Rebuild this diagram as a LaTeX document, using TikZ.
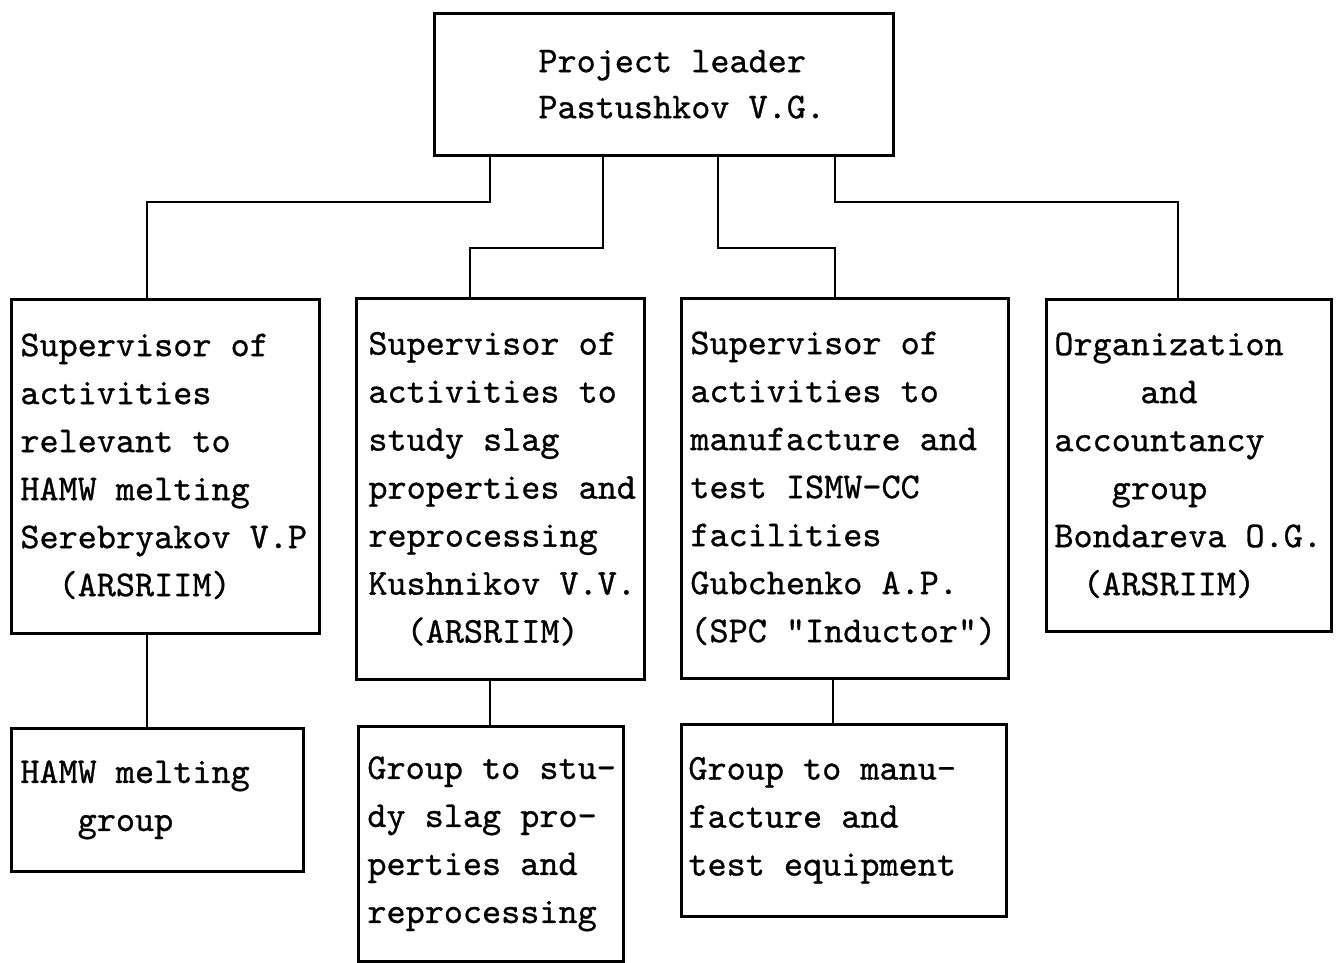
\documentclass[tikz,border=0pt]{standalone}
\usepackage{fontspec}
\newfontfamily\tw{lmmono10-regular.otf}[FakeBold=0.8]
\newlength\chw
\setlength\chw{9.55pt}
\newcommand\ind[1]{\hspace*{#1\chw}}
\begin{document}
\begin{tikzpicture}[x=0.5pt,y=-0.5pt,
  box/.style={draw, line width=1.3pt, inner sep=0pt, anchor=north west},
  txt/.style={anchor=west, inner sep=0pt, align=left, font=\tw\fontsize{18.2}{24}\selectfont},
  conn/.style={line width=1.3pt}]
\useasboundingbox (0,0) rectangle (1336,962);
% boxes
\node[box, minimum width=229.5pt, minimum height=71pt] (T) at (433,12) {};
\node[box, minimum width=154pt, minimum height=167pt] (S1) at (10,298) {};
\node[box, minimum width=144pt, minimum height=190.5pt] (S2) at (355,297) {};
\node[box, minimum width=163.5pt, minimum height=190pt] (S3) at (680,297) {};
\node[box, minimum width=142.5pt, minimum height=166pt] (S4) at (1045,298) {};
\node[box, minimum width=146pt, minimum height=71.5pt] (G1) at (10,727) {};
\node[box, minimum width=132.5pt, minimum height=117.5pt] (G2) at (357,725) {};
\node[box, minimum width=162.5pt, minimum height=96pt] (G3) at (680,723) {};
% texts
\node[txt, font=\tw\fontsize{18.2}{23}\selectfont] (Tt) at ([xshift=52.5pt]T.west) {Project leader\\Pastushkov V.G.};
\node[txt] (S1t) at ([xshift=5pt]S1.west) {Supervisor of\\activities\\relevant to\\HAMW melting\\Serebryakov V.P\\\ind{2}(ARSRIIM)};
\node[txt] (S2t) at ([xshift=6.5pt]S2.west) {Supervisor of\\activities to\\study slag\\properties and\\reprocessing\\Kushnikov V.V.\\\ind{2}(ARSRIIM)};
\node[txt] (S3t) at ([xshift=5pt]S3.west) {Supervisor of\\activities to\\manufacture and\\test ISMW-CC\\facilities\\Gubchenko A.P.\\(SPC "Inductor")};
\node[txt] (S4t) at ([xshift=4.5pt]S4.west) {Organization\\\ind{4.5}and\\accountancy\\\ind{3}group\\Bondareva O.G.\\\ind{1.5}(ARSRIIM)};
\node[txt] (G1t) at ([xshift=5pt]G1.west) {HAMW melting\\\ind{3}group};
\node[txt] (G2t) at ([xshift=5pt]G2.west) {Group to stu-\\dy slag pro-\\perties and\\reprocessing};
\node[txt] (G3t) at ([xshift=4pt]G3.west) {Group to manu-\\facture and\\test equipment};
% connectors
\draw[conn] (T.south -| 490,0) -- (490,202) -| (S1.north -| 147,0);
\draw[conn] (T.south -| 603,0) -- (603,248) -| (S2.north -| 470,0);
\draw[conn] (T.south -| 718,0) -- (718,248) -| (S3.north -| 835,0);
\draw[conn] (T.south -| 835,0) -- (835,202) -| (S4.north -| 1178,0);
\draw[conn] (S1.south -| 147,0) -- (G1.north -| 147,0);
\draw[conn] (S2.south -| 490,0) -- (G2.north -| 490,0);
\draw[conn] (S3.south -| 833,0) -- (G3.north -| 833,0);
\end{tikzpicture}
\end{document}
